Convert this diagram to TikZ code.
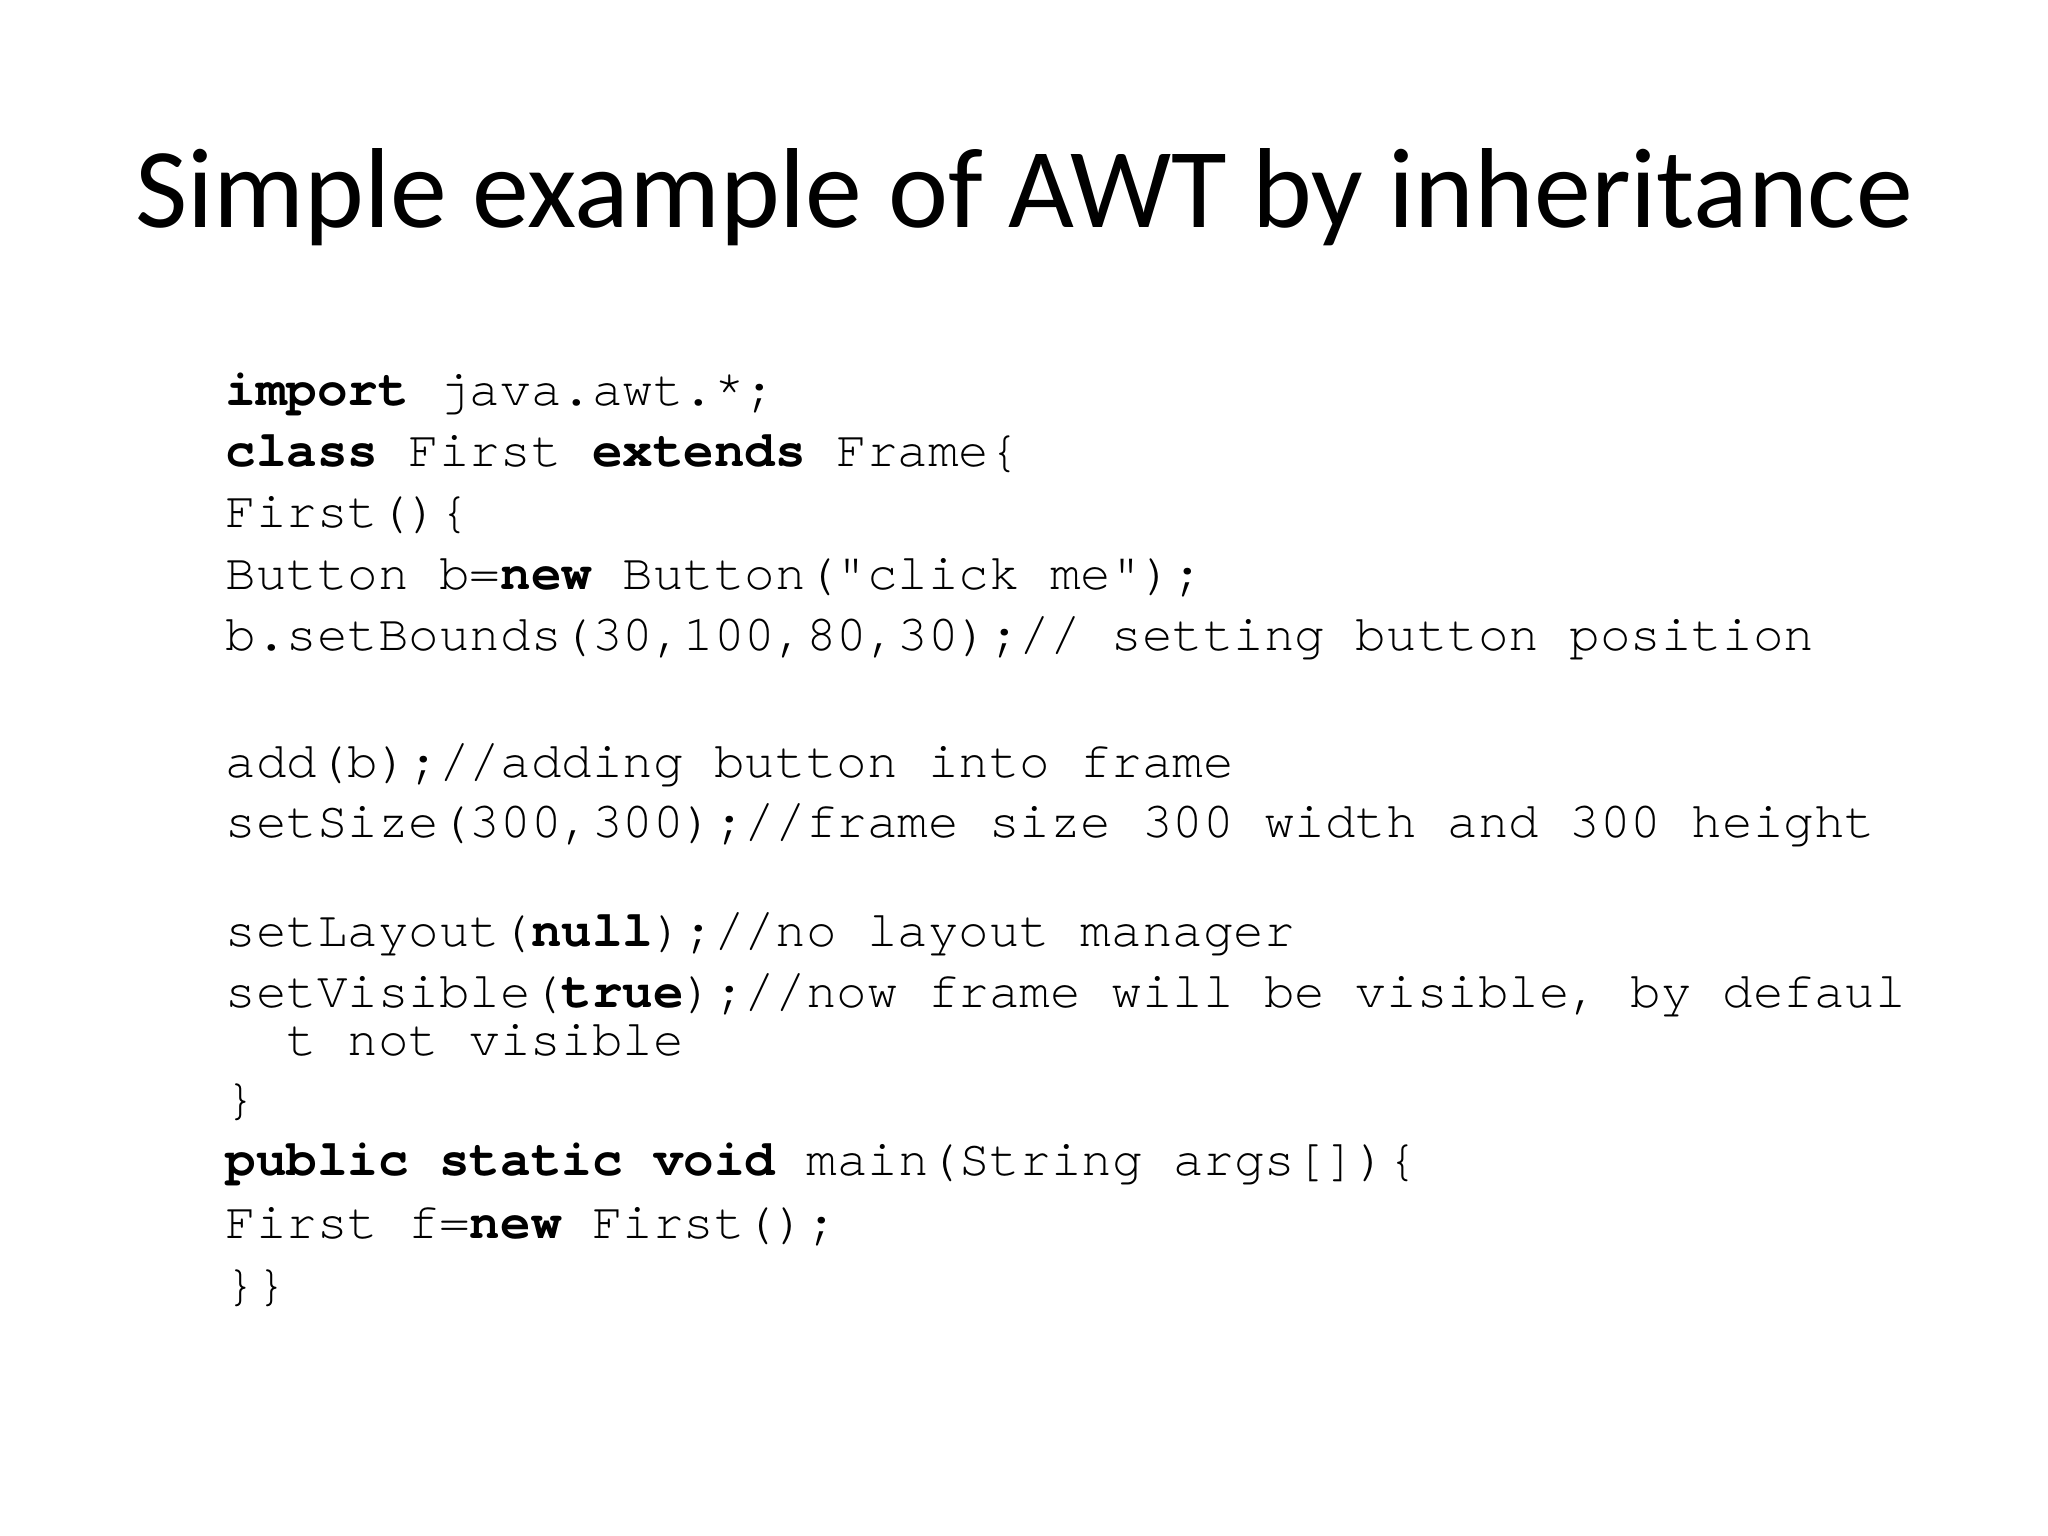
\documentclass[tikz,border=0pt]{standalone}
\usepackage{fontspec}
\setmainfont{Carlito}
\setmonofont{texgyrecursor}[Extension=.otf, UprightFont=*-regular, BoldFont=*-bold, ItalicFont=*-italic, BoldItalicFont=*-bolditalic]
\begin{document}
\begin{tikzpicture}[x=0.3515625bp,y=-0.3515625bp,
  titlestyle/.style={anchor=base, inner sep=0pt, font=\fontsize{40bp}{48bp}\selectfont},
  code/.style={anchor=base west, inner sep=0pt, font=\ttfamily\fontsize{17.9bp}{21bp}\selectfont}]
\useasboundingbox (0,0) rectangle (2048,1536);
\fill[white] (0,0) rectangle (2048,1536);
\node[titlestyle] (title) at (1024,228) {Simple example of AWT by inheritance};
\node[code] (l1) at (225,405) {\textbf{import} java.awt.*;};
\node[code] (l2) at (225,466) {\textbf{class} First \textbf{extends} Frame\{};
\node[code] (l3) at (225,527) {First()\{};
\node[code] (l4) at (225,589) {Button b=\textbf{new} Button("click me");};
\node[code] (l5) at (225,650) {b.setBounds(30,100,80,30);// setting button position};
\node[code] (l6) at (225,777) {add(b);//adding button into frame};
\node[code] (l7) at (225,837) {setSize(300,300);//frame size 300 width and 300 height};
\node[code] (l8) at (225,946) {setLayout(\textbf{null});//no layout manager};
\node[code] (l9) at (225,1007) {setVisible(\textbf{true});//now frame will be visible, by defaul};
\node[code] (l10) at (286,1055) {t not visible};
\node[code] (l11) at (225,1114) {\}};
\node[code] (l12) at (225,1175) {\textbf{public static void} main(String args[])\{};
\node[code] (l13) at (225,1238) {First f=\textbf{new} First();};
\node[code] (l14) at (225,1300) {\}\}};
\end{tikzpicture}
\end{document}
